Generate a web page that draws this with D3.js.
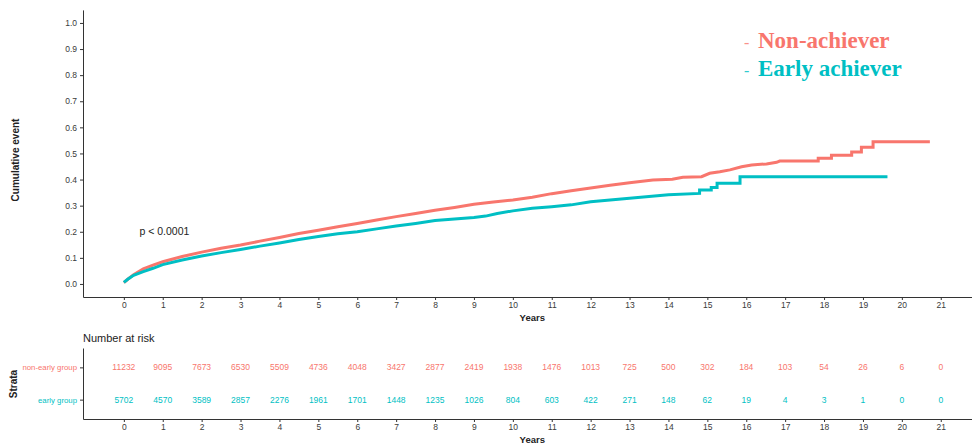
<!DOCTYPE html>
<html><head><meta charset="utf-8">
<script src="https://cdn.jsdelivr.net/npm/d3@7"></script>
<style>
html,body{margin:0;padding:0;background:#fff;}
svg{display:block;font-family:"Liberation Sans",Arial,sans-serif;}
.axis path,.axis line{stroke:#333;stroke-width:1;}
.axis text{fill:#3a3a3a;font-size:8.5px;font-family:"Liberation Sans",Arial,sans-serif;}
.axis text.strata{font-size:7.8px;}
</style></head>
<body>
<svg id="chart" width="972" height="444"></svg>
<script>
// ---------- data ----------
const yearTicks = [0,1,2,3,4,5,6,7,8,9,10,11,12,13,14,15,16,17,18,19,20,21];
const yTicks = [0,0.1,0.2,0.3,0.4,0.5,0.6,0.7,0.8,0.9,1.0];
const seriesNames = ["Non-achiever","Early achiever"];
const strataLabels = ["non-early group","early group"];
const colors = ["#F8766D","#00BFC4"];

// cumulative event curves (repeated times = vertical step)
const nonTimes = [0,0.1,0.25,0.5,0.75,1,1.5,2,2.5,3,3.5,4,4.5,5,5.5,6,6.5,7,7.5,8,8.5,9,9.5,10,10.5,11,11.5,12,12.5,13,13.6,14.1,14.37,14.85,15.06,15.32,15.58,15.88,16.14,16.52,16.78,16.86,17.85,17.85,18.19,18.19,18.71,18.71,18.96,18.96,19.26,19.26,20.72];
const nonVals  = [0.005,0.018,0.035,0.058,0.072,0.085,0.105,0.122,0.137,0.149,0.164,0.178,0.193,0.206,0.219,0.232,0.245,0.258,0.27,0.282,0.293,0.305,0.314,0.322,0.332,0.346,0.357,0.368,0.378,0.388,0.398,0.401,0.409,0.411,0.424,0.430,0.437,0.449,0.456,0.460,0.466,0.471,0.471,0.482,0.482,0.493,0.493,0.506,0.506,0.524,0.524,0.545,0.545];

const earlyTimes = [0,0.1,0.25,0.5,0.75,1,1.5,2,2.5,3,3.5,4,4.5,5,5.5,6,6.5,7,7.5,8,8.5,9,9.3,9.6,10,10.5,11,11.5,12,12.5,13,13.5,14,14.8,14.8,15.1,15.1,15.25,15.25,15.84,15.84,19.63];
const earlyVals  = [0.006,0.018,0.033,0.047,0.06,0.074,0.092,0.107,0.12,0.132,0.145,0.157,0.17,0.182,0.192,0.2,0.211,0.222,0.232,0.243,0.249,0.255,0.26,0.27,0.28,0.29,0.296,0.303,0.315,0.322,0.328,0.335,0.342,0.347,0.36,0.36,0.37,0.37,0.386,0.386,0.411,0.411];

const riskNon   = [11232,9095,7673,6530,5509,4736,4048,3427,2877,2419,1938,1476,1013,725,500,302,184,103,54,26,6,0];
const riskEarly = [5702,4570,3589,2857,2276,1961,1701,1448,1235,1026,804,603,422,271,148,62,19,4,3,1,0,0];

// ---------- layout ----------
const svg = d3.select("#chart");
const xLeft = 83, xRight = 981.6;
const x = d3.scaleLinear().domain([-1.05,22.05]).range([xLeft,xRight]);
const y = d3.scaleLinear().domain([-0.05,1.05]).range([297,9.9]);

// top plot axes
svg.append("g").attr("class","axis").attr("transform","translate(0,297)")
  .call(d3.axisBottom(x).tickValues(yearTicks).tickSize(3).tickPadding(2).tickSizeOuter(0));
svg.append("g").attr("class","axis").attr("transform",`translate(${xLeft},0)`)
  .call(d3.axisLeft(y).tickValues(yTicks).tickFormat(d3.format(".1f")).tickSize(3).tickPadding(3).tickSizeOuter(0));

// curves
const line = d3.line().x(d=>x(d[0])).y(d=>y(d[1]));
const series = [d3.zip(nonTimes,nonVals), d3.zip(earlyTimes,earlyVals)];
series.forEach((s,i)=>{
  svg.append("path").datum(s).attr("d",line).attr("fill","none")
    .attr("stroke",colors[i]).attr("stroke-width",3).attr("stroke-linejoin","miter");
});

// axis titles
svg.append("text").attr("x",x(10.5)).attr("y",321).attr("text-anchor","middle")
  .attr("font-size","9.5px").attr("font-weight","bold").attr("fill","#222").text("Years");
svg.append("text").attr("transform","translate(19,160) rotate(-90)").attr("text-anchor","middle")
  .attr("font-size","10px").attr("font-weight","bold").attr("fill","#222").text("Cumulative event");

// p-value
svg.append("text").attr("x",x(0.4)).attr("y",y(0.2)+3).attr("font-size","10.5px").attr("fill","#222").text("p < 0.0001");

// legend
const lg = svg.append("g").attr("font-family","'Liberation Serif','Times New Roman',serif");
seriesNames.forEach((n,i)=>{
  lg.append("text").attr("x",744).attr("y",48+i*28).attr("fill",colors[i])
    .attr("font-size","16px").attr("opacity",0.8).text("-");
  lg.append("text").attr("x",758).attr("y",48+i*28).attr("fill",colors[i])
    .attr("font-size","23px").attr("font-weight","bold").text(n);
});

// ---------- risk table ----------
svg.append("text").attr("x",xLeft).attr("y",342).attr("font-size","11px").attr("fill","#222").text("Number at risk");
const yr = d3.scalePoint().domain(strataLabels).range([348,419]).padding(0.6);
svg.append("g").attr("class","axis").attr("transform","translate(0,419)")
  .call(d3.axisBottom(x).tickValues(yearTicks).tickSize(3).tickPadding(2).tickSizeOuter(0));
const yAxR = svg.append("g").attr("class","axis").attr("transform",`translate(${xLeft},0)`)
  .call(d3.axisLeft(yr).tickSize(3).tickPadding(3).tickSizeOuter(0));
yAxR.selectAll(".tick text").attr("class","strata").style("fill",(d,i)=>colors[i]);
const riskRows = [riskNon, riskEarly];
riskRows.forEach((row,i)=>{
  svg.append("g").selectAll("text").data(row).join("text")
    .attr("x",(d,j)=>x(yearTicks[j])).attr("y",yr(strataLabels[i])+3)
    .attr("text-anchor","middle").attr("font-size","8.5px").attr("fill",colors[i]).text(d=>d);
});
svg.append("text").attr("x",x(10.5)).attr("y",443).attr("text-anchor","middle")
  .attr("font-size","9.5px").attr("font-weight","bold").attr("fill","#222").text("Years");
svg.append("text").attr("transform","translate(17,384) rotate(-90)").attr("text-anchor","middle")
  .attr("font-size","10px").attr("font-weight","bold").attr("fill","#222").text("Strata");
</script>
</body></html>
